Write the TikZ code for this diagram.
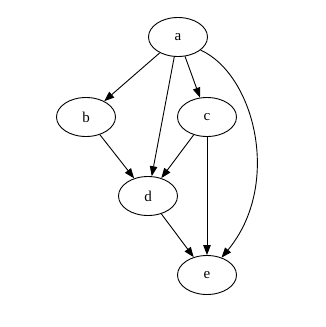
\documentclass[tikz,border=0pt]{standalone}
\usepackage{fontspec}
\setmainfont{Liberation Serif}
\usetikzlibrary{shapes.geometric, arrows.meta, positioning}

\begin{document}
\begin{tikzpicture}[
    x=1pt, y=-1pt,
    vtx/.style={ellipse, draw, line width=0.9pt, minimum width=59pt, minimum height=39pt,
      inner sep=0pt, font=\fontsize{15}{17}\selectfont},
    garr/.style={-{Triangle[length=10pt, width=7.5pt]}, line width=0.9pt}
  ]
  \useasboundingbox (0,0) rectangle (326,327);
  \node[vtx] (a) at (178,37) {a};
  \node[vtx] (b) at (86,117) {b};
  \node[vtx] (c) at (207,117) {c};
  \node[vtx] (d) at (148,196) {d};
  \node[vtx] (e) at (207,275) {e};

  \draw[garr] (a) -- (b);
  \draw[garr] (a) -- (c);
  \draw[garr] (a) -- (d);
  \draw[garr] (a.-30) .. controls (255,75) and (282,185) .. (e.50);
  \draw[garr] (b) -- (d);
  \draw[garr] (c) -- (d);
  \draw[garr] (c) -- (e);
  \draw[garr] (d) -- (e);
\end{tikzpicture}
\end{document}
